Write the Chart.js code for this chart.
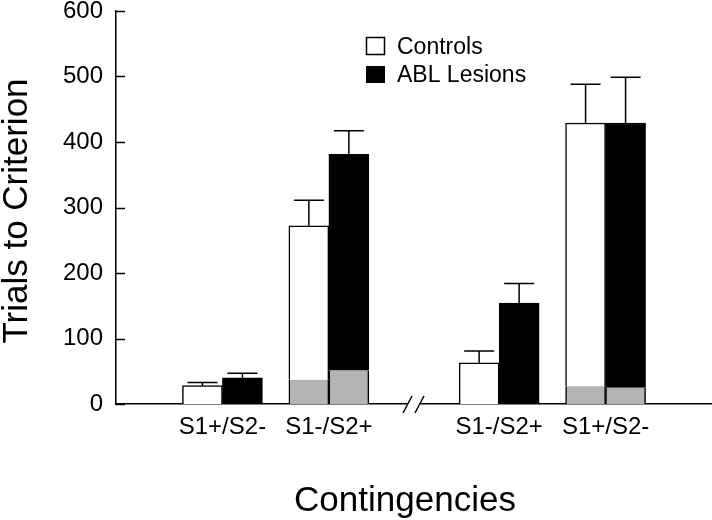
<!DOCTYPE html>
<html>
<head>
<meta charset="utf-8">
<script src="https://cdn.jsdelivr.net/npm/chart.js@4.4.1/dist/chart.umd.min.js"></script>
<style>
  html, body { margin: 0; padding: 0; background: #ffffff; }
  #wrap { width: 712px; height: 520px; }
</style>
</head>
<body>
<div id="wrap"><canvas id="c" width="712" height="520"></canvas></div>
<script>
// ---- data ----
const categories    = ['S1+/S2-', 'S1-/S2+', 'S1-/S2+', 'S1+/S2-'];
const seriesNames   = ['Controls', 'ABL Lesions'];
const controlsMean  = [28, 272, 63, 429];
const controlsErr   = [5, 39, 18, 59];
const controlsGray  = [0, 37, 0, 27];
const lesionMean    = [40, 381, 154, 429];
const lesionErr     = [7, 36, 30, 70];
const lesionGray    = [0, 51, 0, 25];
const yTicks        = [0, 100, 200, 300, 400, 500, 600];

// group positions on a linear x axis (two pairs separated by an axis break)
const groupX = categories.map((_, i) => i * 5 + (i >= 2 ? 3 : 0));

const FONT = "'Liberation Sans', Arial, sans-serif";
const GRAY = '#b4b4b4';
const BW = 1.5;

function pts(arr) { return arr.map((v, i) => ({ x: groupX[i], y: v === 0 ? null : v })); }

const datasets = [
  { label: 'ctrl-gray', stack: 'C', data: pts(controlsGray), backgroundColor: GRAY, borderColor: '#000',
    borderWidth: { left: BW, right: BW, top: 0, bottom: 0 }, borderSkipped: false },
  { label: seriesNames[0], stack: 'C', data: pts(controlsMean.map((v, i) => v - controlsGray[i])), backgroundColor: '#fff', borderColor: '#000',
    borderWidth: { left: BW, right: BW, top: BW, bottom: 0 }, borderSkipped: false, errs: controlsErr, means: controlsMean },
  { label: 'abl-gray', stack: 'A', data: pts(lesionGray), backgroundColor: GRAY, borderColor: '#000',
    borderWidth: { left: BW, right: BW, top: 0, bottom: 0 }, borderSkipped: false },
  { label: seriesNames[1], stack: 'A', data: pts(lesionMean.map((v, i) => v - lesionGray[i])), backgroundColor: '#000', borderColor: '#000',
    borderWidth: { left: BW, right: BW, top: BW, bottom: 0 }, borderSkipped: false, errs: lesionErr, means: lesionMean }
];

const extras = {
  id: 'extras',
  afterDatasetsDraw(chart) {
    const ctx = chart.ctx;
    const y = chart.scales.y;
    ctx.save();
    ctx.strokeStyle = '#000';
    ctx.lineWidth = BW;
    [1, 3].forEach(di => {
      const ds = chart.data.datasets[di];
      const meta = chart.getDatasetMeta(di);
      meta.data.forEach((el, i) => {
        const top = y.getPixelForValue(ds.means[i]);
        const cap = y.getPixelForValue(ds.means[i] + ds.errs[i]);
        ctx.beginPath();
        ctx.moveTo(el.x, top);
        ctx.lineTo(el.x, cap);
        ctx.moveTo(el.x - 15, cap);
        ctx.lineTo(el.x + 15, cap);
        ctx.stroke();
      });
    });
    ctx.restore();
  },
  afterDraw(chart) {
    const ctx = chart.ctx;
    const y = chart.scales.y;
    const x = chart.scales.x;
    const area = chart.chartArea;
    ctx.save();
    // inward tick marks on y axis
    ctx.strokeStyle = '#000';
    ctx.lineWidth = BW;
    yTicks.forEach(v => {
      const py = Math.round(y.getPixelForValue(v)) + 0.5;
      ctx.beginPath();
      ctx.moveTo(area.left, py);
      ctx.lineTo(area.left + 9, py);
      ctx.stroke();
    });
    // axis break
    const bx = (x.getPixelForValue(groupX[1]) + x.getPixelForValue(groupX[2])) / 2;
    const by = area.bottom;
    ctx.fillStyle = '#fff';
    ctx.fillRect(bx - 7, by - 3, 12, 6);
    ctx.beginPath();
    ctx.moveTo(bx - 11, by + 9); ctx.lineTo(bx - 2, by - 8);
    ctx.moveTo(bx + 1, by + 9);  ctx.lineTo(bx + 10, by - 8);
    ctx.stroke();
    // axis titles
    ctx.fillStyle = '#000';
    ctx.font = '35px ' + FONT;
    ctx.textAlign = 'center';
    ctx.textBaseline = 'alphabetic';
    ctx.fillText('Contingencies', 405, 511);
    ctx.translate(27, 211);
    ctx.rotate(-Math.PI / 2);
    ctx.fillText('Trials to Criterion', 0, 0);
    ctx.restore();
    // legend
    ctx.save();
    ctx.lineWidth = BW;
    ctx.strokeStyle = '#000';
    ctx.fillStyle = '#fff';
    ctx.fillRect(366.5, 37.5, 18, 17);
    ctx.strokeRect(366.5, 37.5, 18, 17);
    ctx.fillStyle = '#000';
    ctx.fillRect(366, 66, 19, 17);
    ctx.font = '23px ' + FONT;
    ctx.textAlign = 'left';
    ctx.textBaseline = 'alphabetic';
    ctx.fillText(seriesNames[0], 397, 54);
    ctx.fillText(seriesNames[1], 397, 82);
    ctx.restore();
  }
};

new Chart(document.getElementById('c'), {
  type: 'bar',
  data: { datasets },
  options: {
    responsive: false,
    animation: false,
    devicePixelRatio: 1,
    layout: { padding: { top: 0, right: 0, left: 0, bottom: 0 } },
    barThickness: 40,
    plugins: { legend: { display: false }, tooltip: { enabled: false } },
    scales: {
      x: {
        type: 'linear',
        min: -5, max: 23,
        offset: false,
        grid: { display: false, offset: false },
        border: { display: true, color: '#000', width: BW },
        afterBuildTicks: (s) => { s.ticks = groupX.map(v => ({ value: v })); },
        afterFit: (s) => { s.height = 116; s.paddingLeft = 0; s.paddingRight = 0; },
        ticks: {
          autoSkip: false, maxRotation: 0, padding: 3,
          color: '#000', font: { family: FONT, size: 24, lineHeight: 1 },
          callback: (v, i) => categories[i]
        }
      },
      y: {
        min: 0, max: 600,
        stacked: true,
        grid: { display: false, drawTicks: false },
        border: { display: true, color: '#000', width: BW },
        afterBuildTicks: (s) => { s.ticks = yTicks.map(v => ({ value: v })); },
        afterFit: (s) => { s.width = 116; s.paddingTop = 11; s.paddingBottom = 0; },
        ticks: {
          padding: 13, color: '#000',
          font: { family: FONT, size: 24, lineHeight: 1 }
        }
      }
    }
  },
  plugins: [extras]
});
</script>
</body>
</html>
